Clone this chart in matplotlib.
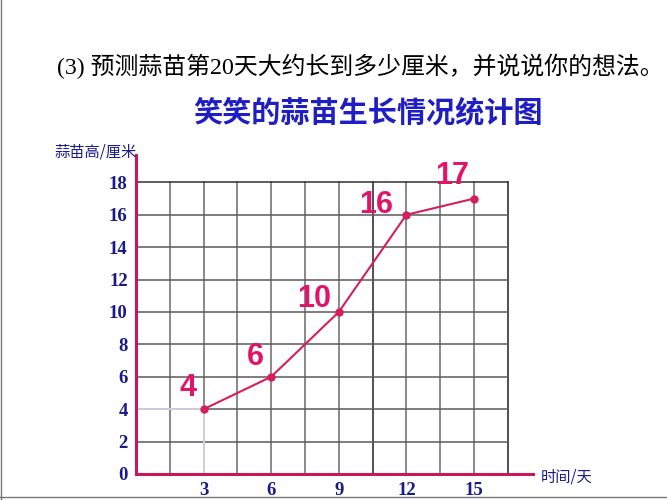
import numpy as np
import matplotlib
matplotlib.use("Agg")
import matplotlib.pyplot as plt

# data
days = [3, 6, 9, 12, 15]
heights = [4, 6, 10, 16, 17]
point_labels = ["4", "6", "10", "16", "17"]
label_offsets = [(-11.5, 15), (-11.5, 14.5), (-18, 9.5), (-22, 7), (-16, 16)]  # points

x_ticks = [3, 6, 9, 12, 15]
y_ticks = [0, 2, 4, 6, 8, 10, 12, 14, 16, 18]

question = "(3) 预测蒜苗第20天大约长到多少厘米，并说说你的想法。"
title = "笑笑的蒜苗生长情况统计图"
y_name = "蒜苗高/厘米"
x_name = "时间/天"

CJK = ["Noto Sans CJK SC", "DejaVu Sans"]
SERIF_CJK = ["Liberation Serif", "Noto Sans CJK SC"]
NAVY = "#1a1a8a"
PINK = "#d41f5c"
AXIS = "#c8185a"

fig = plt.figure(figsize=(6.67, 5), dpi=100)
ax = fig.add_axes([136 / 667, 26 / 500, 397 / 667, 324 / 500])
ax.set_xlim(0, 397 / 22.53)
ax.set_ylim(0, 20)

# grid
grid_x = np.arange(1.5, 16.6, 1.5)
grid_y = np.arange(2, 18.1, 2)
for gx in grid_x:
    dark = abs(gx - 10.5) < 0.01 or abs(gx - 16.5) < 0.01
    ax.plot([gx, gx], [0, 18], color="#202020" if dark else "#6a6a6a", lw=1.1, zorder=1)
for gy in grid_y:
    ax.plot([0, 16.5], [gy, gy], color="#303030" if gy == 18 else "#5a5a5a", lw=1.1, zorder=1)

# helper lines to the first point
ax.plot([0, days[0]], [heights[0], heights[0]], color="#cfcfe6", lw=1.4, zorder=2)
ax.plot([days[0], days[0]], [0, heights[0]], color="#cfcfe6", lw=1.4, zorder=2)

# axes lines
ax.plot([0, 17.6], [0, 0], color=AXIS, lw=2.2, zorder=3, clip_on=False)
ax.plot([0, 0], [0, 19.7], color=AXIS, lw=2.2, zorder=3, clip_on=False)

ax.plot(days, heights, color=PINK, lw=1.5, marker="o", ms=5, zorder=4)
for d, h, lab, off in zip(days, heights, point_labels, label_offsets):
    ax.annotate(lab, (d, h), xytext=off, textcoords="offset points",
                ha="center", va="center", fontsize=22, fontweight="bold",
                color="#e0156a", family="Liberation Sans", zorder=5)

for s in ax.spines.values():
    s.set_visible(False)
ax.set_xticks(x_ticks)
ax.set_yticks(y_ticks)
ax.tick_params(length=0, labelsize=13.5, labelcolor=NAVY)
ax.tick_params(axis="x", pad=6)
ax.tick_params(axis="y", pad=6)
for t in ax.get_xticklabels() + ax.get_yticklabels():
    t.set_family("Liberation Serif")
    t.set_fontweight("bold")

fig.text(96 / 667, 1 - 152 / 500, y_name, family=CJK, fontsize=11, color=NAVY,
         ha="center", va="center")
fig.text(541 / 667, 1 - 477 / 500, x_name, family=CJK, fontsize=11, color=NAVY,
         ha="left", va="center")
fig.text(368 / 667, 1 - 112 / 500, title, family=CJK, fontsize=21, fontweight="bold",
         color="#1e1ec4", ha="center", va="center")
fig.text(360 / 667, 1 - 66 / 500, question, family=SERIF_CJK, fontsize=17.2,
         color="black", ha="center", va="center")

# slide border
fig.add_artist(plt.Line2D([0.5 / 667, 0.5 / 667], [0, 1], color="#777777", lw=1))
fig.add_artist(plt.Line2D([0, 1], [3 / 500, 3 / 500], color="#777777", lw=1))

fig.savefig("out.png", dpi=100)
